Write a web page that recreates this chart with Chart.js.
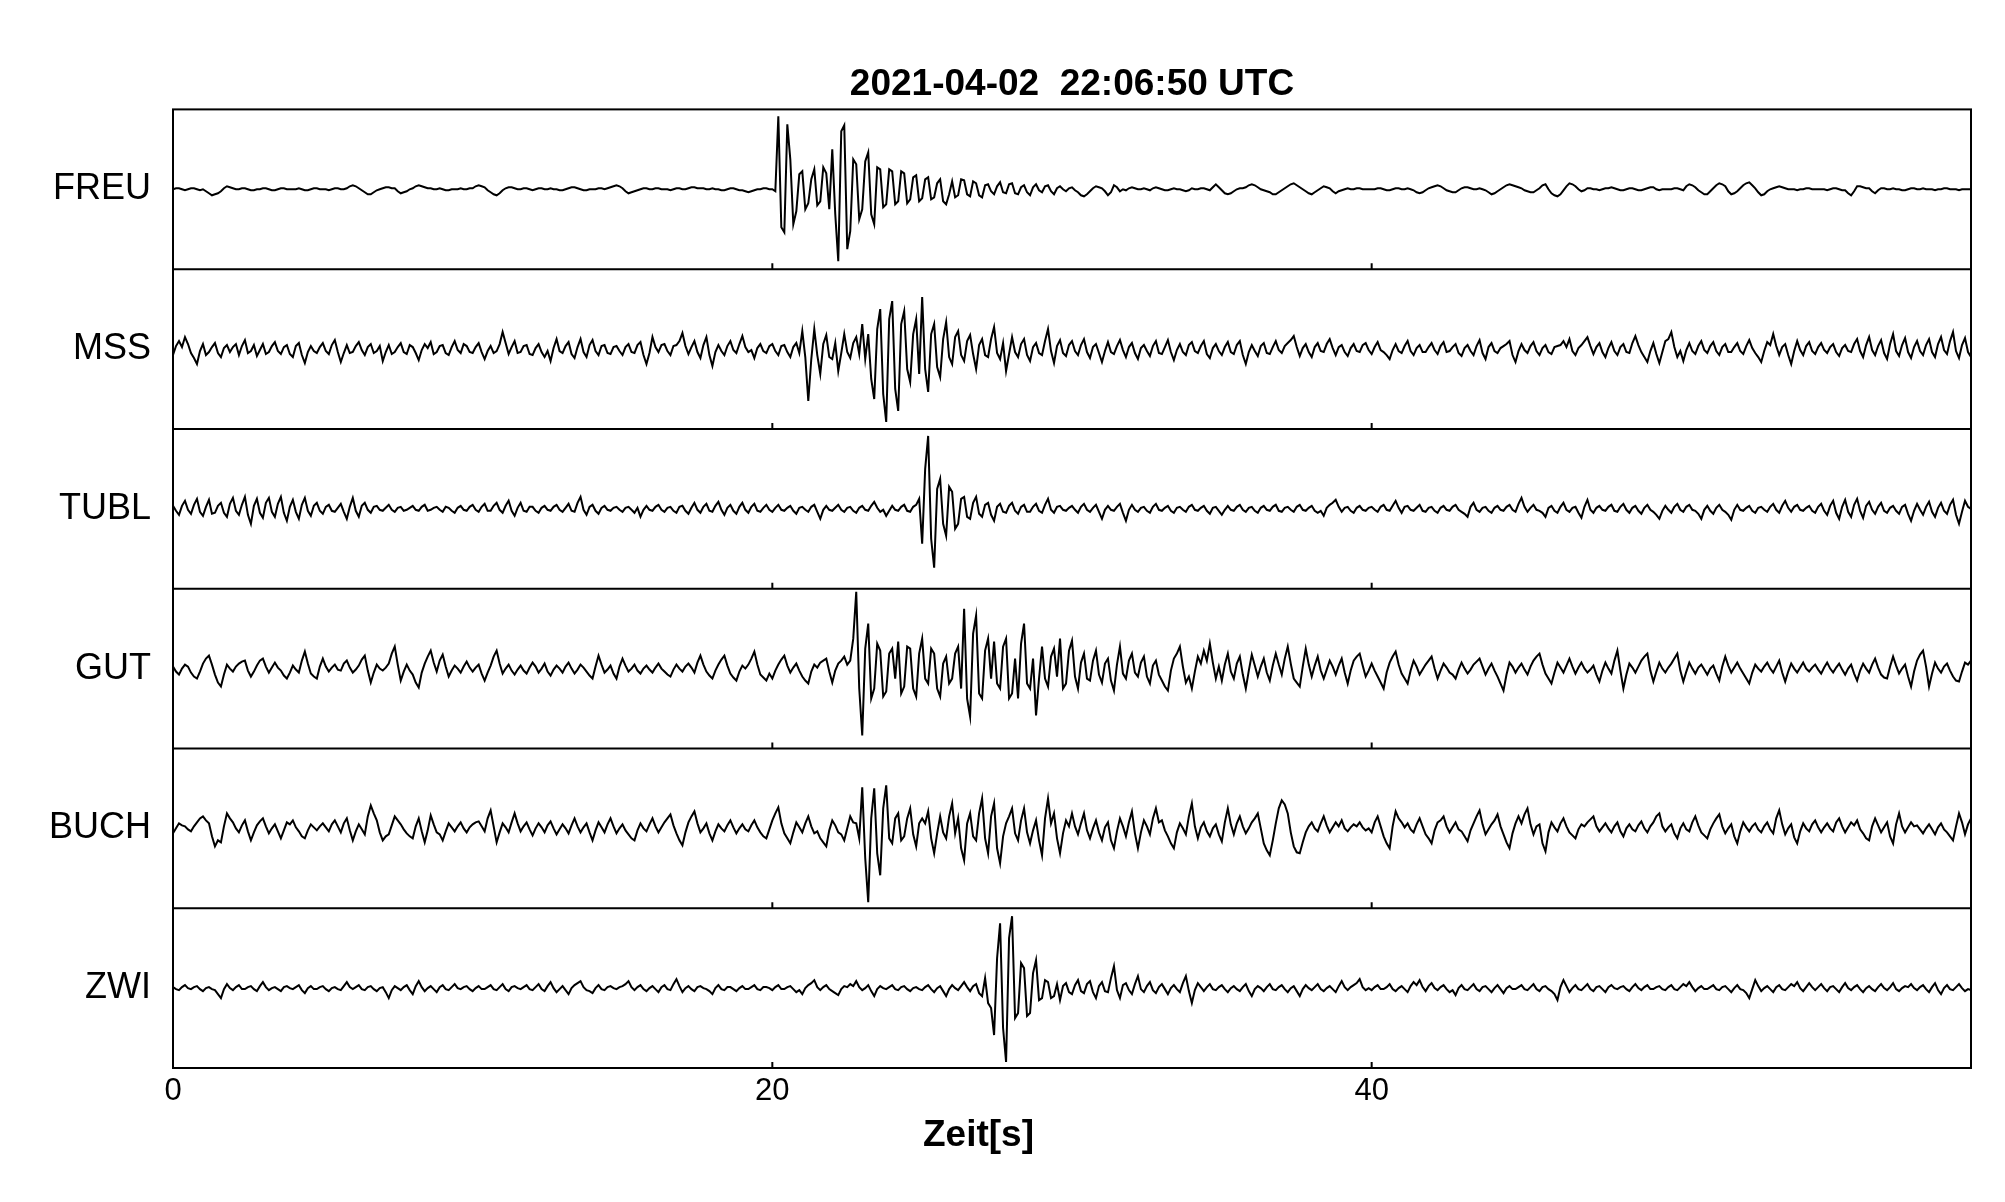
<!DOCTYPE html>
<html>
<head>
<meta charset="utf-8">
<title>Seismogramm 2021-04-02 22:06:50 UTC</title>
<script src="https://cdn.jsdelivr.net/npm/chart.js@4.4.1/dist/chart.umd.min.js"></script>
<style>
  html, body { margin: 0; padding: 0; background: #fff; }
  canvas { display: block; }
</style>
</head>
<body>
<canvas id="seis" width="2005" height="1202"></canvas>
<script>
// Stationen von oben nach unten
const stations = ['FREU', 'MSS', 'TUBL', 'GUT', 'BUCH', 'ZWI'];
const xTicks = [0, 20, 40];
const sampleStep = 0.1; // s zwischen zwei Werten

// Amplituden (eine Zeile = 5 s)
const FREU = [
  0,1,1,0,-1,0,1,1,0,-1,0,-2,-4,-6,-5,-4,-2,1,3,2,1,0,0,1,1,0,-1,-1,0,0,1,1,0,-1,-1,0,1,1,0,0,0,0,1,0,-1,-1,0,1,1,0,
  0,0,-1,0,1,1,0,0,1,3,4,3,1,-1,-3,-5,-5,-3,-1,0,1,2,2,1,1,-2,-4,-3,-2,0,1,3,4,3,2,1,1,0,0,1,0,-1,-1,0,0,0,1,0,0,1,
  1,3,4,3,2,-1,-3,-5,-6,-4,-1,1,2,2,1,0,0,1,1,0,-1,0,1,1,0,0,1,0,0,-1,-1,0,1,2,2,1,0,-1,-1,0,0,0,1,1,0,1,2,3,4,3,
  1,-2,-4,-3,-2,-1,0,1,1,0,0,1,1,0,0,0,-1,0,1,1,0,0,1,2,2,1,1,1,0,0,1,0,0,-1,-1,0,1,1,0,-1,-1,-2,-3,-2,-1,0,0,1,1,0,
  0,-2,73,-38,-43,65,30,-35,-22,15,18,-20,-14,10,20,-16,-12,22,16,-20,40,-25,-72,58,64,-60,-42,30,25,-30,-20,28,37,-25,-35,22,20,-18,-15,20,18,-15,-12,18,16,-14,-10,12,14,-12,
  -9,10,12,-10,-8,6,10,-12,-15,-5,8,-8,-6,10,9,-5,-7,8,6,-6,-8,4,5,-2,-5,3,7,-3,-4,5,6,-4,-5,2,4,-3,-6,2,5,-1,-3,3,4,-2,-5,1,3,0,-2,1,
  2,-1,-3,-6,-7,-5,-2,1,3,2,1,-2,-6,-3,4,2,-2,0,-1,1,2,1,0,0,1,0,-1,1,2,1,0,-1,-1,0,1,0,0,-1,-2,-1,1,0,0,1,1,0,-1,2,5,2,
  -1,-4,-5,-4,-2,0,1,1,2,4,5,4,2,0,-1,-2,-3,-5,-5,-3,-1,1,3,5,6,4,2,0,-2,-4,-5,-3,-1,1,3,2,1,-2,-4,-2,-1,0,1,0,0,1,1,0,0,0,
  0,0,1,1,0,-1,-1,0,1,1,0,0,1,0,-1,-3,-4,-3,-1,1,2,3,4,3,1,-1,-2,-3,-3,-1,1,2,2,1,0,0,1,0,-1,-3,-5,-4,-2,0,2,4,5,4,3,2,
  1,-1,-2,-3,-3,-1,1,4,5,0,-4,-6,-7,-5,-1,3,6,5,3,0,-2,-1,1,1,0,0,-1,0,1,1,2,1,0,-1,-1,0,1,1,0,-1,-1,0,1,2,2,0,-1,0,0,0,
  0,1,1,0,-1,3,5,4,2,-1,-3,-5,-5,-2,1,4,6,5,3,-2,-5,-4,-2,1,4,6,7,4,1,-3,-6,-5,-2,0,1,2,3,2,1,0,0,0,-1,0,0,1,1,0,0,0,
  0,0,-1,0,1,1,0,-1,-1,-4,-6,-2,3,3,2,1,1,-2,-4,-1,1,1,0,0,1,0,0,-1,-1,0,1,1,0,0,1,0,0,0,-1,0,0,1,1,0,0,0,-1,0,0,0,
  0
];
const MSS = [
  -6,3,8,2,12,5,-4,-9,-15,-2,5,-6,-3,2,6,-4,-8,1,4,-3,2,5,-6,3,9,-4,-2,4,-7,-1,5,-5,-3,3,7,-2,-5,2,4,-5,-8,3,6,-6,-14,-3,3,-2,-4,2,
  6,-2,-5,4,9,-3,-13,-4,4,-4,-3,3,7,-1,-6,2,5,-4,-2,3,-12,-3,4,-5,-3,2,6,-3,-5,4,2,-4,-11,-1,5,1,7,-5,-3,3,4,-4,-6,2,8,-1,-4,5,3,-3,
  -4,2,6,-3,-10,-2,3,-4,-2,5,17,6,-5,2,8,-4,-3,3,4,-5,-6,1,5,-3,-8,-2,-12,1,10,-2,-4,3,7,-5,-9,2,10,-3,-8,4,9,-2,-6,3,4,-4,-5,2,3,-2,
  -6,2,5,-3,-4,4,7,-6,-15,-4,12,2,-3,4,5,-2,-6,3,4,8,16,3,-5,2,8,-3,-9,4,12,-6,-17,-3,4,-2,-6,3,8,-1,-4,5,13,2,-3,-1,-9,1,5,-2,-4,3,
  5,-2,-6,3,4,-3,-8,2,6,-4,18,-8,-52,-10,20,-6,-25,5,14,-8,-10,6,-22,-4,15,-3,-9,6,12,-5,25,-10,15,-30,-50,20,40,-45,-73,30,48,-40,-62,25,38,-20,-33,15,30,-25,
  52,-20,-43,15,25,-18,-28,10,27,-8,-15,12,18,-6,-12,8,14,-5,-20,4,10,-6,-8,10,22,-4,-10,6,-22,-5,12,-3,-8,5,10,-6,-12,2,6,-4,-6,8,20,-2,-14,3,9,-4,-7,4,
  8,-2,-6,4,10,-3,-9,2,5,-4,-13,-2,7,-3,-5,3,9,-1,-8,2,6,-4,-10,1,4,-2,-7,3,8,-4,-5,2,9,-3,-11,-1,5,-3,-6,4,7,-2,-4,3,8,-5,-9,1,5,-2,
  -6,2,7,-3,-5,4,8,-6,-15,-3,4,-2,-7,3,6,-4,-5,2,8,-1,-4,3,6,9,13,2,-7,1,5,-3,-8,2,6,-2,-3,5,10,1,-6,2,4,-3,-7,1,5,-2,-3,4,6,-1,
  -5,2,7,-1,-3,-6,-10,-1,5,-2,-4,3,8,-2,-6,1,4,-3,-3,2,6,-1,-5,3,7,-3,-2,2,5,-4,-7,1,4,-2,-6,3,9,-4,-10,2,6,-2,-4,1,3,5,8,-6,-13,-2,
  5,-1,-4,3,7,-2,-6,1,4,-3,-5,2,3,4,8,2,10,-2,-6,1,4,8,12,3,-5,2,6,-3,-8,1,7,-2,-6,2,5,-3,-4,6,13,4,-3,-8,-13,-2,6,-5,-14,-3,8,10,
  17,2,-8,-2,-12,-1,6,-2,-5,3,8,-1,-4,3,7,-2,-6,2,5,-3,-3,2,6,-2,-5,3,9,1,-4,-8,-13,-2,7,4,15,3,-6,2,5,-6,-15,-2,8,-1,-6,3,7,-2,-5,2,
  6,-1,-4,2,5,-3,-7,1,4,-2,-3,5,10,-2,-8,4,12,-1,-6,3,9,-4,-10,5,15,-2,-7,4,11,-3,-9,2,8,-2,-6,4,10,-3,-8,5,12,-1,-5,8,17,-2,-9,4,11,-3,
  -8
];
const TUBL = [
  3,-2,-6,3,8,-1,-5,4,10,-3,-7,2,9,-5,-4,3,6,-4,-8,5,11,-2,-6,4,12,-6,-15,3,10,-4,-9,6,11,-3,-8,5,12,-4,-12,2,9,-3,-10,4,11,-2,-7,3,6,-2,
  -5,2,4,-2,-3,1,5,-3,-10,2,11,-2,-8,3,6,-1,-4,2,3,-1,-2,1,4,-1,-3,1,2,-2,-1,1,3,-1,-2,2,4,-2,-1,1,2,-1,-3,2,1,-2,-4,1,3,-1,-2,2,
  4,-1,-3,2,5,-2,-2,3,6,-1,-4,3,8,-2,-7,1,6,-2,-3,2,2,-2,-4,1,3,-1,-2,2,4,-1,-3,1,5,-2,-3,6,12,-1,-6,2,4,-2,-5,1,3,-1,-2,1,2,-1,
  -3,1,2,-1,-4,1,-8,-1,3,-1,-2,2,4,-1,-3,1,2,-2,-4,2,3,-2,-5,1,6,-1,-4,2,5,-2,-3,3,7,-1,-6,1,4,-2,-5,2,6,-1,-4,2,5,-2,-3,1,4,-1,
  -3,1,4,-1,-2,1,3,-2,-5,1,2,-1,-3,2,4,-3,-10,-1,3,-1,-2,1,4,-1,-3,1,2,-2,-4,1,3,-1,-2,3,7,1,-3,-1,-7,-2,3,-1,-2,2,4,-2,-3,2,4,10,
  -35,40,73,-30,-59,20,30,-15,-27,22,17,-20,-15,10,12,-8,-10,6,12,-5,-8,4,6,-6,-12,2,5,-3,-4,3,6,-2,-5,2,4,-3,-3,2,5,-2,-4,4,10,-1,-4,2,3,-1,-2,1,
  3,-1,-4,2,5,-1,-3,1,4,-3,-10,-1,3,-1,-2,2,5,-4,-12,-1,4,-1,-3,1,2,-2,-4,2,5,-1,-2,1,3,-2,-4,1,2,-1,-3,2,4,-1,-2,1,3,-2,-5,1,2,-2,
  -6,-1,3,-1,-2,2,4,-1,-3,1,2,-2,-4,1,3,-1,-2,2,4,-2,-3,1,2,-1,-3,2,4,-1,-2,1,3,-2,-4,-2,-7,1,4,6,9,2,-3,1,2,-2,-4,1,3,-1,-2,1,
  2,-1,-3,2,4,-1,-2,3,8,1,-4,2,3,-1,-2,1,4,-2,-3,1,2,-2,-4,1,3,-1,-2,2,4,-1,-3,-5,-8,2,6,-1,-3,1,2,-2,-4,1,3,-1,-2,2,4,-1,-3,5,
  11,2,-3,1,4,-1,-2,-4,-8,1,3,-2,-4,2,6,-1,-3,1,2,-4,-9,2,9,-1,-4,1,3,-1,-2,2,4,-2,-3,2,5,-1,-4,1,3,-2,-5,1,4,-1,-3,-6,-10,-2,3,-1,
  -4,2,5,-1,-3,2,4,-1,-2,-5,-10,-1,3,-2,-5,1,4,-1,-3,-6,-11,-1,4,-1,-2,1,3,-2,-4,1,2,-1,-3,2,5,-1,-4,3,8,1,-3,2,4,-1,-2,1,3,-2,-4,2,
  5,-2,-6,3,8,-4,-10,2,9,-3,-8,4,10,-2,-9,3,7,-1,-5,2,6,-2,-4,1,3,-2,-5,2,4,-5,-12,-2,5,-1,-6,2,7,-3,-8,1,6,-2,-5,4,9,-6,-15,-3,8,2,
  0
];
const GUT = [
  2,-3,-6,0,4,2,-4,-8,-10,-3,5,10,13,4,-6,-14,-18,-6,4,0,-3,2,5,7,8,-2,-8,-3,3,8,10,2,-4,1,6,1,-2,-7,-10,-4,3,-1,-4,8,17,5,-5,-8,-10,2,
  10,2,-3,1,4,-1,-2,5,8,1,-4,-1,3,9,13,-2,-14,-4,4,0,-2,1,5,15,22,4,-12,-3,4,-2,-6,-14,-19,-4,5,12,18,6,-3,8,14,2,-8,-2,3,0,-4,2,7,1,
  -3,1,4,-5,-12,-4,3,12,18,5,-5,0,4,-2,-6,-1,3,-2,-5,1,6,2,-4,0,5,-3,-7,-1,3,0,-4,2,6,0,-5,-1,4,1,-3,-7,-10,2,13,4,-4,-1,3,-5,-10,2,
  10,3,-3,0,4,-2,-5,0,3,-1,-4,1,5,0,-3,-6,-8,-1,4,0,-3,2,5,1,-4,6,13,4,-3,-7,-10,-2,4,9,13,3,-5,-9,-12,-3,3,0,4,10,17,4,-6,-9,-12,-5,
  -10,-2,4,9,13,3,-4,1,5,-2,-8,-12,-15,-3,4,1,6,8,10,-3,-14,-2,5,8,12,4,8,30,77,-20,-67,20,45,-30,-20,25,18,-28,-23,15,20,-10,27,-25,-18,22,20,-20,-28,15,
  30,-10,-15,20,15,-20,-28,5,12,-15,-10,15,22,-20,60,-30,-48,35,53,-25,-30,18,30,-10,27,-15,-20,22,30,-30,-25,10,-30,25,45,-15,-20,10,-47,-10,22,-10,-18,12,20,-8,30,-20,-15,18,
  28,-8,-20,6,15,-10,-12,8,18,-6,-14,5,10,-12,-22,4,22,-5,-10,8,15,-4,-8,6,12,-8,-15,3,8,-6,-12,-18,-22,-2,10,15,22,2,-14,-8,-20,-3,12,5,18,8,25,6,-10,2,
  -12,4,15,-3,-10,5,12,-6,-20,-2,14,3,-8,2,10,-4,-12,3,15,4,-6,10,22,5,-10,-14,-18,2,20,4,-8,3,12,-2,-10,-1,8,2,-6,3,10,-4,-15,-2,8,12,15,3,-8,-2,
  5,-2,-8,-14,-20,-4,6,12,17,4,-5,-10,-15,-2,8,2,-6,-1,4,8,12,0,-10,-2,5,1,-4,-6,-10,-1,6,0,-5,-1,4,7,10,2,-6,0,5,-2,-8,-15,-22,-6,6,2,-4,1,
  5,-1,-6,2,8,12,15,4,-5,-10,-15,-4,6,1,-4,3,10,2,-5,1,6,0,-4,-1,3,-6,-13,-2,6,0,-5,8,18,-2,-20,-6,5,1,-4,2,8,12,15,-2,-13,-3,6,0,-4,1,
  5,10,15,-2,-13,-3,6,0,-5,1,4,-1,-6,0,3,-5,-12,2,12,3,-4,1,6,0,-5,-10,-15,-4,4,0,-3,2,6,0,-4,2,8,-4,-13,-3,5,0,-4,1,6,0,-3,1,4,-1,
  -5,1,6,0,-4,1,5,-1,-6,0,4,-5,-12,-2,5,0,-4,4,10,1,-6,-9,-10,2,12,3,-5,0,4,-8,-18,-3,8,14,18,2,-18,-5,6,0,-4,2,5,-2,-8,-12,-13,-3,6,4,
  8
];
const BUCH = [
  -5,0,5,3,2,-1,-3,2,6,10,12,8,5,-8,-18,-12,-14,2,15,10,6,0,-4,3,8,-3,-12,-4,3,7,10,2,-5,0,4,-3,-10,-2,6,4,8,1,-3,-8,-10,-2,4,1,-2,2,
  5,1,-3,4,8,2,-4,5,10,-2,-12,-3,4,-1,-6,12,23,15,8,-4,-12,-8,-6,3,12,8,4,-1,-5,-8,-10,2,10,-3,-14,-2,13,4,-4,-6,-12,-3,5,1,-3,2,6,0,-4,1,
  4,6,7,2,-3,10,18,2,-14,-4,5,1,-4,6,15,5,-3,2,6,-1,-7,0,5,1,-4,3,7,0,-6,-1,4,0,-5,3,10,2,-4,1,5,-4,-12,-2,6,1,-4,4,10,2,-5,0,
  4,-2,-6,-10,-12,-2,5,0,-3,4,10,2,-4,1,6,10,14,3,-5,-12,-17,-4,6,12,17,5,-4,0,5,-5,-12,-3,4,0,-3,3,8,1,-5,0,4,-1,-3,3,8,1,-4,-8,-10,-1,
  8,15,21,5,-5,-10,-15,-4,6,1,-4,5,12,2,-5,-3,-10,-14,-18,-2,8,3,-4,-6,-12,0,12,6,5,-10,41,-30,-74,10,40,-25,-47,20,43,-10,-15,10,15,-12,-8,10,20,-6,-18,5,
  10,5,17,-10,-25,-5,12,-4,-10,12,25,-5,10,-20,-32,5,15,-8,-12,15,30,-10,-25,12,25,-20,-35,-8,5,12,20,-5,-12,8,20,-4,-15,-2,8,-12,-27,10,30,5,15,-10,-25,-5,8,2,
  15,2,-6,5,15,-2,-10,0,8,-4,-12,1,6,-12,-20,-3,10,2,-8,6,17,-5,-20,-4,8,2,-6,10,20,6,8,-2,-8,-15,-20,-4,5,0,-6,12,25,2,-10,1,6,-3,-8,0,4,-6,
  -13,6,20,4,-6,5,12,2,-5,0,6,10,15,0,-15,-22,-27,-12,5,20,28,24,15,-4,-18,-24,-25,-14,-4,2,6,0,-3,5,12,3,-4,1,6,2,8,0,-3,1,4,2,6,1,-2,0,
  -4,6,12,2,-8,-15,-20,2,17,10,6,1,5,-1,-4,4,10,2,-6,-10,-15,-2,6,8,12,2,-4,1,6,-1,-3,-8,-13,-2,5,12,18,4,-6,-1,4,8,14,2,-6,-14,-20,-5,5,12,
  5,14,20,4,-6,2,4,-15,-23,-4,6,1,-3,5,10,2,-4,-7,-10,-1,4,2,6,9,12,2,-3,1,5,0,-4,2,6,-3,-8,0,4,-1,-3,3,7,0,-4,2,6,12,15,2,-3,1,
  4,-5,-10,0,5,-1,-3,6,12,3,-4,-7,-10,-1,5,10,14,2,-5,0,4,-8,-15,-3,6,1,-3,2,5,-1,-4,2,6,-1,-5,10,18,4,-6,0,4,-9,-15,-3,5,0,-3,4,8,1,
  -4,1,5,0,-3,6,10,2,-4,1,6,3,8,-1,-5,-10,-12,2,10,3,-4,1,6,-8,-15,4,15,2,-4,1,6,2,3,-1,-5,0,4,-1,-6,1,5,-1,-4,-8,-12,2,15,6,-6,4,
  10
];
const ZWI = [
  1,-1,-2,1,3,0,-1,1,2,-1,-3,0,1,-1,-2,-6,-10,-1,4,0,-2,1,3,-1,-1,1,2,-1,-3,2,6,1,-2,0,1,-1,-3,1,2,0,-1,1,3,-2,-5,0,2,-1,-1,1,
  2,-1,-3,0,1,-1,-2,2,6,1,-1,1,3,-1,-2,1,2,-1,-3,0,1,-4,-10,-2,2,0,-2,1,3,-2,-6,2,7,1,-3,0,2,-1,-4,1,3,-1,-2,1,4,0,-1,1,2,-1,
  -3,0,2,-1,-1,1,3,-1,-2,1,4,-1,-3,1,2,0,-1,1,3,-1,-2,1,4,-1,-3,2,6,0,-4,-1,2,-2,-6,0,3,5,7,1,-2,-3,-5,0,3,-1,-2,1,2,0,-1,1,
  2,4,7,1,-2,1,3,-1,-3,0,2,-1,-4,1,3,-1,-2,4,9,2,-4,0,2,-1,-3,1,2,0,-1,-3,-6,0,3,-1,-2,1,1,-1,-3,0,2,-1,-1,1,3,-1,-2,1,1,0,
  -2,1,3,-1,-1,1,2,-1,-4,-2,-6,0,3,5,8,1,-2,1,3,-1,-3,-5,-7,-1,2,1,4,2,7,1,-2,0,3,-3,-8,-1,2,0,-1,1,3,-1,-2,1,2,-1,-3,0,1,-1,
  -2,1,3,-1,-4,0,2,-3,-8,-1,3,0,-2,2,6,1,-3,2,4,-5,-8,10,-15,-20,-47,30,65,-40,-74,50,72,-30,-25,25,20,-28,-25,15,28,-12,-10,8,6,-10,-8,4,-12,2,5,-4,
  -6,3,8,-3,-5,4,7,-4,-10,2,6,-3,-4,10,22,-2,-10,3,5,-2,-6,4,12,-1,-4,2,6,-2,-5,1,4,-1,-6,0,3,-1,-4,5,12,-3,-15,-2,5,1,-3,1,4,-1,-2,1,
  3,-1,-4,0,2,-1,-3,1,4,-3,-8,-1,2,0,-3,1,4,-1,-2,1,3,-1,-4,0,2,-3,-8,-1,3,0,-2,1,4,-1,-3,0,2,-1,-4,2,7,1,-2,1,3,5,9,1,-2,0,
  -2,1,3,-1,-1,1,4,-1,-3,0,2,-1,-4,2,6,3,8,1,-3,2,5,0,-2,1,3,-1,-4,-2,-7,0,3,-1,-2,1,4,-1,-3,1,2,-1,-4,0,3,-1,-5,0,2,-1,-1,1,
  3,-1,-2,1,4,-1,-3,1,2,-1,-3,-6,-12,1,8,2,-4,0,3,-1,-2,1,4,-1,-3,1,2,-1,-4,1,3,0,-1,1,2,-1,-3,1,4,0,-2,1,3,-1,-1,1,2,-1,-2,1,
  3,-1,-2,1,4,2,6,1,-3,0,2,-1,-1,1,3,-1,-2,1,2,-1,-4,0,3,-1,-2,-5,-10,-1,8,2,-3,0,2,-1,-4,1,3,-1,-2,1,4,2,6,0,-3,1,5,1,-2,1,
  4,0,-3,1,2,-1,-4,1,5,0,-2,1,3,-1,-4,0,2,-1,-3,1,4,0,-2,1,5,-1,-3,0,2,1,4,0,-2,1,3,-1,-4,1,5,-2,-6,0,3,-1,-2,1,4,0,-3,-1,
  -2
];
const traces = [FREU, MSS, TUBL, GUT, BUCH, ZWI];

const FONT = "'Liberation Sans', Arial, Helvetica, sans-serif";
const panelPx = 160; // Amplitude, die einer Spurhoehe entspricht

function toPoints(values, k) {
  const base = stations.length - k - 0.5;
  return values.map((v, i) => ({ x: +(i * sampleStep).toFixed(2), y: base + v / panelPx }));
}

// Rahmen, Trennlinien, kleine Striche innen und Achsentitel
const framePlugin = {
  id: 'frame',
  afterDatasetsDraw(chart) {
    const { ctx, chartArea: a, scales: { x, y } } = chart;
    ctx.save();
    ctx.strokeStyle = '#000';
    ctx.lineWidth = 2;
    ctx.strokeRect(a.left, a.top, a.right - a.left, a.bottom - a.top);
    ctx.beginPath();
    for (let k = 0; k < stations.length; k++) {
      const py = y.getPixelForValue(k);
      if (k > 0) {
        ctx.moveTo(a.left, py);
        ctx.lineTo(a.right, py);
      }
      xTicks.forEach(t => {
        if (t <= 0) return;
        const px = x.getPixelForValue(t);
        ctx.moveTo(px, py);
        ctx.lineTo(px, py - 6);
      });
    }
    ctx.stroke();

    ctx.fillStyle = '#000';
    ctx.font = 'bold 37px ' + FONT;
    ctx.textAlign = 'center';
    ctx.textBaseline = 'middle';
    ctx.fillText('Zeit[s]', a.left + (a.right - a.left) * 0.448, a.bottom + 68);
    ctx.restore();
  }
};

new Chart(document.getElementById('seis'), {
  type: 'line',
  data: {
    datasets: traces.map((vals, k) => ({
      label: stations[k],
      data: toPoints(vals, k),
      borderColor: '#000',
      borderWidth: 2,
      pointRadius: 0,
      tension: 0,
      fill: false
    }))
  },
  options: {
    responsive: false,
    animation: false,
    devicePixelRatio: 1,
    layout: { padding: { top: 0, right: 34, bottom: 0, left: 0 } },
    plugins: {
      legend: { display: false },
      tooltip: { enabled: false },
      title: {
        display: true,
        text: '2021-04-02  22:06:50 UTC',
        fullSize: false,
        color: '#000',
        font: { family: FONT, size: 37, weight: 'bold' },
        padding: { top: 63, bottom: 2 }
      }
    },
    scales: {
      x: {
        type: 'linear',
        min: 0,
        max: 60,
        afterBuildTicks: s => { s.ticks = xTicks.map(v => ({ value: v })); },
        ticks: { color: '#000', font: { family: FONT, size: 31 }, padding: 5, maxRotation: 0, autoSkip: false },
        grid: { display: false, drawTicks: false },
        border: { display: false },
        afterFit: s => { s.height = 134; }
      },
      y: {
        min: 0,
        max: 6,
        afterBuildTicks: s => { s.ticks = stations.map((n, k) => ({ value: stations.length - k - 0.5 })); },
        ticks: {
          color: '#000',
          font: { family: FONT, size: 36 },
          padding: 22,
          autoSkip: false,
          callback: v => stations[Math.round(stations.length - 0.5 - v)]
        },
        grid: { display: false, drawTicks: false },
        border: { display: false },
        afterFit: s => { s.width = 173; }
      }
    }
  },
  plugins: [framePlugin]
});
</script>
</body>
</html>
